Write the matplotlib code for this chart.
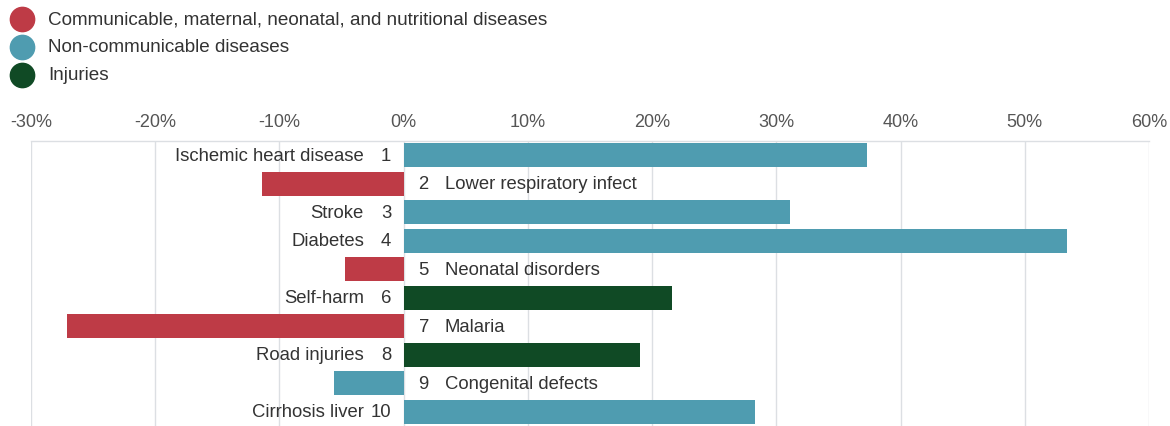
import numpy as np
from matplotlib import pyplot as plt
from matplotlib.lines import Line2D

plt.rcParams['font.family'] = ['Liberation Sans', 'DejaVu Sans']

# data
causes = ['Ischemic heart disease', 'Lower respiratory infect', 'Stroke', 'Diabetes',
          'Neonatal disorders', 'Self-harm', 'Malaria', 'Road injuries',
          'Congenital defects', 'Cirrhosis liver']
ranks = [1, 2, 3, 4, 5, 6, 7, 8, 9, 10]
change = [37.3, -11.4, 31.1, 53.4, -4.7, 21.6, -27.1, 19.0, -5.6, 28.3]
groups = ['ncd', 'cmnn', 'ncd', 'ncd', 'cmnn', 'inj', 'cmnn', 'inj', 'ncd', 'ncd']

group_order = ['cmnn', 'ncd', 'inj']
group_names = {'cmnn': 'Communicable, maternal, neonatal, and nutritional diseases',
               'ncd': 'Non-communicable diseases',
               'inj': 'Injuries'}
colors = {'cmnn': '#BE3B46', 'ncd': '#4F9CB0', 'inj': '#104A25'}
ticks = [-30, -20, -10, 0, 10, 20, 30, 40, 50, 60]

W, H = 1170, 427
fig = plt.figure(figsize=(W / 100, H / 100), dpi=100)
ax = fig.add_axes([31 / W, 0.0, (1149 - 31) / W, 1 - 142 / H])

y = np.arange(len(causes))
ax.barh(y, change, height=0.84, color=[colors[g] for g in groups], zorder=2)

fs = 13.3
for i, (name, r, v) in enumerate(zip(causes, ranks, change)):
    if v >= 0:
        ax.text(-1.0, i, str(r), ha='right', va='center', fontsize=fs, color='#333333')
        ax.text(-3.2, i, name, ha='right', va='center', fontsize=fs, color='#333333')
    else:
        ax.text(1.2, i, str(r), ha='left', va='center', fontsize=fs, color='#333333')
        ax.text(3.3, i, name, ha='left', va='center', fontsize=fs, color='#333333')

ax.set_xlim(-30, 60)
ax.set_ylim(len(causes) - 0.5, -0.5)
ax.set_xticks(ticks)
ax.set_xticklabels(['-' + str(abs(t)) + '%' if t < 0 else str(t) + '%' for t in ticks])
ax.xaxis.tick_top()
ax.tick_params(axis='x', length=0, pad=8, labelsize=13, labelcolor='#555555')
ax.set_yticks([])
ax.grid(axis='x', color='#DCDFE3', linewidth=1, zorder=0)
for s in ['left', 'right', 'bottom']:
    ax.spines[s].set_visible(False)
ax.spines['top'].set_color('#DCDFE3')
ax.spines['top'].set_linewidth(1)

# legend, placed by hand
for k, g in enumerate(group_order):
    yy = 1 - (20 + 28 * k) / H
    fig.add_artist(Line2D([22 / W], [yy], marker='o', linestyle='', markersize=17.5,
                          markerfacecolor=colors[g], markeredgecolor=colors[g],
                          transform=fig.transFigure))
    fig.text(48 / W, yy, group_names[g], ha='left', va='center', fontsize=13.6,
             color='#333333')

fig.savefig('out.png')
